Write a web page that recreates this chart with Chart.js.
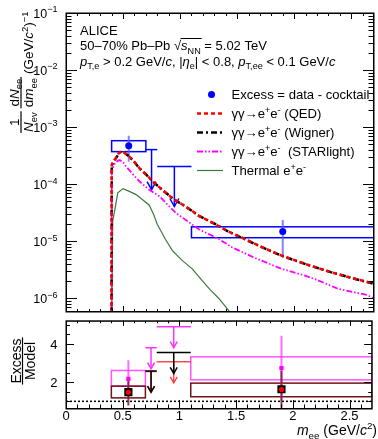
<!DOCTYPE html>
<html><head><meta charset="utf-8">
<script src="https://cdn.jsdelivr.net/npm/chart.js@4.4.1/dist/chart.umd.min.js"></script>
<style>
html,body{margin:0;padding:0;background:#fff;}
#wrap{position:relative;width:378px;height:439px;overflow:hidden;background:#fff;}
canvas{position:absolute;left:0;}
#topc{top:0;}
#botc{top:315px;}
</style></head><body>
<div id="wrap"><canvas id="topc" width="378" height="316"></canvas><canvas id="botc" width="378" height="124"></canvas></div>
<script>
// ---------------- data ----------------
const massQED  = [0.399, 0.401, 0.42, 0.44, 0.46, 0.483, 0.51, 0.556, 0.60, 0.643, 0.70, 0.76, 0.85, 0.948, 1.03, 1.107, 1.165, 1.31, 1.42, 1.54, 1.70, 1.89, 2.10, 2.32, 2.50, 2.70];
const yieldQED = [1e-7, 2.2e-4, 2.6e-4, 2.95e-4, 3.45e-4, 3.8e-4, 3.6e-4, 3.06e-4, 2.45e-4, 1.92e-4, 1.5e-4, 1.13e-4, 7.8e-5, 5.4e-5, 4.3e-5, 3.4e-5, 2.8e-5, 2.0e-5, 1.5e-5, 1.17e-5, 8.2e-6, 5.65e-6, 4.0e-6, 2.9e-6, 2.3e-6, 1.82e-6];
const massWig  = [0.399, 0.401, 0.42, 0.44, 0.46, 0.483, 0.51, 0.556, 0.60, 0.643, 0.70, 0.76, 0.85, 0.948, 1.03, 1.107, 1.165, 1.31, 1.42, 1.54, 1.70, 1.89, 2.10, 2.32, 2.50, 2.70];
const yieldWig = [1e-7, 2.15e-4, 2.55e-4, 2.9e-4, 3.4e-4, 3.75e-4, 3.6e-4, 3.05e-4, 2.45e-4, 1.9e-4, 1.5e-4, 1.12e-4, 7.8e-5, 5.4e-5, 4.3e-5, 3.4e-5, 2.8e-5, 2.0e-5, 1.5e-5, 1.16e-5, 8.2e-6, 5.6e-6, 4.0e-6, 2.9e-6, 2.3e-6, 1.8e-6];
const massSTAR  = [0.399, 0.401, 0.42, 0.45, 0.47, 0.50, 0.527, 0.58, 0.643, 0.72, 0.817, 0.96, 1.165, 1.34, 1.455, 1.65, 1.89, 2.09, 2.21, 2.38, 2.64, 2.70];
const yieldSTAR = [1e-7, 1.6e-4, 2.2e-4, 2.55e-4, 2.67e-4, 2.45e-4, 2.05e-4, 1.55e-4, 1.13e-4, 8.3e-5, 6.2e-5, 3.18e-5, 1.63e-5, 1.1e-5, 7.9e-6, 5.2e-6, 3.3e-6, 2.54e-6, 2.08e-6, 1.49e-6, 1.15e-6, 1.0e-6];
const massTherm  = [0.399, 0.41, 0.426, 0.454, 0.50, 0.55, 0.615, 0.68, 0.73, 0.77, 0.80, 0.87, 0.933, 1.02, 1.107, 1.19, 1.267, 1.34, 1.43, 1.50];
const yieldTherm = [3e-7, 2.3e-5, 3.4e-5, 7.1e-5, 8.4e-5, 7.6e-5, 6.6e-5, 5.2e-5, 4.3e-5, 2.9e-5, 2.0e-5, 1.1e-5, 6.9e-6, 4.6e-6, 3.3e-6, 2.1e-6, 1.4e-6, 1.0e-6, 6.0e-7, 4e-7];

// excess = data - cocktail
const dataMass  = [0.55, 1.90];
const dataYield = [4.74e-4, 1.49e-5];
const statHi    = [7.1e-4, 2.38e-5];
const statLo    = [2.5e-4, 5.5e-6];
const sysHi     = [5.8e-4, 1.8e-5];
const sysLo     = [3.73e-4, 1.16e-5];
const binLo     = [0.4, 1.1];
const binHi     = [0.7, 2.7];
// upper limits
const ulLo    = [0.7, 0.8];
const ulHi    = [0.8, 1.1];
const ulYield = [4.05e-4, 2.05e-4];

// ratio panel (Excess / Model)
const ratioQED   = [1.47, 1.62];
const ratioWig   = [1.48, 1.63];
const ratioSTAR  = [2.17, 2.73];
const ratioErrHi = [2.2, 2.6];
const ratioErrLo = [0.78, 0.55];
const ratioSTARErrHi = [3.14, 4.42];
const ratioSTARErrLo = [1.14, 1.0];
const boxModelHi = [1.79, 1.95];
const boxModelLo = [1.18, 1.24];
const boxSTARHi  = [2.61, 3.32];
const boxSTARLo  = [1.80, 2.12];
const ulRatioQED  = [2.56, 3.06];
const ulRatioWig  = [2.58, 3.55];
const ulRatioSTAR = [3.80, 4.89];

// ticks / labels
const xTickVals   = [0, 0.5, 1, 1.5, 2, 2.5];
const xTickLabels = ['0', '0.5', '1', '1.5', '2', '2.5'];
const yTickExp    = [-6, -5, -4, -3, -2, -1];
const rTickVals   = [2, 4];
const rTickLabels = ['2', '4'];
const legendLabels = ['Excess = data - cocktail', 'γγ→e^{+}e^{-} (QED)', 'γγ→e^{+}e^{-} (Wigner)', 'γγ→e^{+}e^{-}  (STARlight)', 'Thermal e^{+}e^{-}'];
const headerLines = ['ALICE', '50–70% Pb–Pb √~{s}_{NN} = 5.02 TeV', '~{p}_{T,e} > 0.2 GeV/~{c}, |~{η}_{e}| < 0.8, ~{p}_{T,ee} < 0.1 GeV/~{c}'];

// ---------------- helpers ----------------
const FF = '"Liberation Sans", Arial, Helvetica, sans-serif';
function fnt(sz, it){ return (it ? 'italic ' : '') + sz + 'px ' + FF; }
function parse(s, sz){
  const parts = []; let i = 0, buf = '';
  const flush = () => { if (buf) { parts.push([buf, sz, false, 0]); buf = ''; } };
  while (i < s.length) {
    const c = s[i];
    if ((c === '^' || c === '_' || c === '~') && s[i+1] === '{') {
      flush();
      const j = s.indexOf('}', i + 2); const t = s.slice(i + 2, j);
      if (c === '^') parts.push([t, sz * 0.7, false, -sz * 0.4]);
      else if (c === '_') parts.push([t, sz * 0.7, false, sz * 0.28]);
      else parts.push([t, sz, true, 0]);
      i = j + 1;
    } else { buf += c; i++; }
  }
  flush(); return parts;
}
function measure(ctx, parts){ let w = 0; for (const p of parts){ ctx.font = fnt(p[1], p[2]); w += ctx.measureText(p[0]).width; } return w; }
function drawRuns(ctx, parts, x, y, align){
  const w = measure(ctx, parts);
  let cx = align === 'right' ? x - w : align === 'center' ? x - w / 2 : x;
  ctx.textAlign = 'left'; ctx.textBaseline = 'alphabetic';
  const pos = [];
  for (const p of parts){ ctx.font = fnt(p[1], p[2]); ctx.fillText(p[0], cx, y + p[3]); const pw = ctx.measureText(p[0]).width; pos.push([cx, pw]); cx += pw; }
  return pos;
}
function drawRot(ctx, parts, bx, sy, align){
  ctx.save(); ctx.translate(bx, sy); ctx.rotate(-Math.PI / 2); drawRuns(ctx, parts, 0, 0, align); ctx.restore();
}
function fracLen(ctx, num, den){ return Math.max(measure(ctx, num), measure(ctx, den)) + 2; }
function rotFrac(ctx, num, den, cy, numB, denB, barX){
  const L = fracLen(ctx, num, den);
  drawRot(ctx, num, numB, cy, 'center');
  drawRot(ctx, den, denB, cy, 'center');
  ctx.save(); ctx.strokeStyle = '#000'; ctx.lineWidth = 1.2;
  ctx.beginPath(); ctx.moveTo(barX, cy + L / 2); ctx.lineTo(barX, cy - L / 2); ctx.stroke(); ctx.restore();
  return L;
}
function line(ctx, x0, y0, x1, y1){ ctx.beginPath(); ctx.moveTo(x0, y0); ctx.lineTo(x1, y1); ctx.stroke(); }
function arrowDown(ctx, cx, y0, len, hw, hh){
  line(ctx, cx, y0, cx, y0 + len);
  ctx.beginPath(); ctx.moveTo(cx - hw, y0 + len - hh); ctx.lineTo(cx, y0 + len); ctx.lineTo(cx + hw, y0 + len - hh); ctx.stroke();
}
function frameTicks(chart, xt, yt){
  const {ctx, chartArea: a, scales: {x, y}} = chart;
  ctx.save(); ctx.strokeStyle = '#000'; ctx.lineWidth = 1;
  for (let i = 0; i <= 27; i++){
    const v = i / 10; const p = Math.round(x.getPixelForValue(v)) + 0.5; const maj = i % 5 === 0;
    const lb = maj ? xt.bMaj : xt.bMin, lt = maj ? xt.tMaj : xt.tMin;
    if (p > a.left + 1 && p < a.right - 1){ line(ctx, p, a.bottom, p, a.bottom - lb); line(ctx, p, a.top, p, a.top + lt); }
  }
  for (const t of yt.list){
    const p = Math.round(y.getPixelForValue(t.v)) + 0.5;
    if (p < a.top + 1 || p > a.bottom - 1) continue;
    const l = t.maj ? yt.maj : yt.min;
    line(ctx, a.left, p, a.left + l, p); line(ctx, a.right, p, a.right - l, p);
  }
  ctx.lineWidth = 1.5;
  ctx.strokeRect(a.left + 0.25, a.top + 0.25, a.right - a.left - 0.5, a.bottom - a.top - 0.5);
  ctx.restore();
}

// ---------------- top panel ----------------
const pts = (xs, ys) => xs.map((m, i) => ({x: m, y: ys[i]}));
const topPlugin = {
  id: 'topDecor',
  beforeDatasetsDraw(chart){
    const {ctx, chartArea: a, scales: {x, y}} = chart;
    ctx.save(); ctx.beginPath(); ctx.rect(a.left, a.top, a.right - a.left, a.bottom - a.top); ctx.clip();
    ctx.strokeStyle = '#0000ff'; ctx.lineWidth = 1.5;
    for (let i = 0; i < dataMass.length; i++){
      const x0 = x.getPixelForValue(binLo[i]), x1 = x.getPixelForValue(binHi[i]);
      const y0 = y.getPixelForValue(sysHi[i]), y1 = y.getPixelForValue(sysLo[i]);
      ctx.strokeRect(x0, y0, x1 - x0, y1 - y0);
    }
    ctx.strokeStyle = 'rgba(90,90,255,0.75)'; ctx.lineWidth = 2;
    for (let i = 0; i < dataMass.length; i++){
      const px = x.getPixelForValue(dataMass[i]);
      line(ctx, px, y.getPixelForValue(statHi[i]), px, y.getPixelForValue(statLo[i]));
    }
    ctx.strokeStyle = '#0000ff'; ctx.lineWidth = 1.5;
    for (let i = 0; i < ulYield.length; i++){
      const x0 = x.getPixelForValue(ulLo[i]), x1 = x.getPixelForValue(ulHi[i]);
      const py = y.getPixelForValue(ulYield[i]);
      line(ctx, x0, py, x1, py);
      arrowDown(ctx, (x0 + x1) / 2, py, 40, 4.5, 8);
    }
    ctx.restore();
  },
  afterDraw(chart){
    const {ctx, scales: {y}} = chart;
    const ylist = [];
    for (let d = -7; d <= -1; d++) for (let m = 1; m <= 9; m++) ylist.push({v: m * Math.pow(10, d), maj: m === 1});
    frameTicks(chart, {bMaj: 6, bMin: 3, tMaj: 6, tMin: 3}, {list: ylist, maj: 11, min: 5.5});
    ctx.save(); ctx.fillStyle = '#000';
    for (const e of yTickExp){
      const py = y.getPixelForValue(Math.pow(10, e));
      const sup = [['−' + Math.abs(e), 9, false, -5.5]];
      const sw = measure(ctx, sup);
      drawRuns(ctx, sup, 57.5, py + 4.8, 'right');
      drawRuns(ctx, [['10', 12.5, false, 0]], 57.5 - sw, py + 4.8, 'right');
    }
    // y title (rotated)
    const T = 13.5;
    let yb = 133;
    const n1 = parse('1', T), d1 = parse('~{N}_{ev}', T);
    const w1 = fracLen(ctx, n1, d1);
    rotFrac(ctx, n1, d1, yb - w1 / 2, 18.5, 33, 21);
    yb -= w1 + 3;
    const n2 = parse('d~{N}_{ee}', T), d2 = parse('d~{m}_{ee}', T);
    const w2 = fracLen(ctx, n2, d2);
    rotFrac(ctx, n2, d2, yb - w2 / 2, 18.5, 33, 21);
    yb -= w2 + 3;
    drawRot(ctx, parse('(GeV/~{c}^{2})^{−1}', T), 33, yb, 'left');
    // header text
    drawRuns(ctx, parse(headerLines[0], 13), 80, 34.5, 'left');
    const pos = drawRuns(ctx, parse(headerLines[1], 13), 80, 50, 'left');
    ctx.strokeStyle = '#000'; ctx.lineWidth = 1;
    line(ctx, pos[1][0] - 0.5, 50 - 11.5, pos[2][0] + pos[2][1] + 1, 50 - 11.5);
    drawRuns(ctx, parse(headerLines[2], 13), 80, 65.5, 'left');
    // legend
    const ds = chart.data.datasets;
    for (let r = 0; r < 5; r++){
      const d = ds[r]; const ry = 94.5 + 19 * r;
      ctx.save();
      if (r === 0){
        ctx.fillStyle = d.pointBackgroundColor; ctx.beginPath(); ctx.arc(211.5, ry, d.pointRadius, 0, Math.PI * 2); ctx.fill();
      } else {
        ctx.strokeStyle = d.borderColor; ctx.lineWidth = d.borderWidth; ctx.setLineDash(d.borderDash || []);
        line(ctx, 197, ry, 223, ry);
      }
      ctx.restore();
      ctx.fillStyle = '#000';
      drawRuns(ctx, parse(legendLabels[r], 13.1), 231.5, ry + 4.7, 'left');
    }
    ctx.restore();
  }
};

new Chart(document.getElementById('topc'), {
  type: 'line',
  data: { datasets: [
    { label: 'Excess = data - cocktail', data: pts(dataMass, dataYield), showLine: false, pointRadius: 3.5, pointBackgroundColor: '#0000ff', pointBorderColor: '#0000ff', pointBorderWidth: 0, clip: 0 },
    { label: 'QED', data: pts(massQED, yieldQED), borderColor: '#ff0000', borderWidth: 2.5, borderDash: [4, 3], pointRadius: 0, tension: 0, clip: 0 },
    { label: 'Wigner', data: pts(massWig, yieldWig), borderColor: '#000000', borderWidth: 2.5, borderDash: [6, 3, 2, 3], pointRadius: 0, tension: 0, clip: 0 },
    { label: 'STARlight', data: pts(massSTAR, yieldSTAR), borderColor: '#ff00ff', borderWidth: 1.8, borderDash: [6, 2, 1.5, 2, 1.5, 2], pointRadius: 0, tension: 0, clip: 0 },
    { label: 'Thermal', data: pts(massTherm, yieldTherm), borderColor: '#3a7a3a', borderWidth: 1.2, pointRadius: 0, tension: 0, clip: 0 }
  ]},
  options: {
    responsive: false, animation: false, devicePixelRatio: 1,
    layout: { padding: { left: 66, right: 1, top: 13, bottom: 1 } },
    scales: {
      x: { type: 'linear', min: 0, max: 2.7, display: false },
      y: { type: 'logarithmic', min: 5.8e-7, max: 0.1, display: false }
    },
    plugins: { legend: { display: false }, tooltip: { enabled: false } }
  },
  plugins: [topPlugin]
});

// ---------------- ratio panel ----------------
const botPlugin = {
  id: 'botDecor',
  beforeDatasetsDraw(chart){
    const {ctx, chartArea: a, scales: {x, y}} = chart;
    ctx.save(); ctx.beginPath(); ctx.rect(a.left, a.top, a.right - a.left, a.bottom - a.top); ctx.clip();
    ctx.strokeStyle = '#000'; ctx.lineWidth = 1.5; ctx.setLineDash([2, 2]);
    const p1 = y.getPixelForValue(1); line(ctx, a.left, p1, a.right, p1); ctx.setLineDash([]);
    ctx.lineWidth = 1.5;
    for (let i = 0; i < dataMass.length; i++){
      const x0 = x.getPixelForValue(binLo[i]), x1 = x.getPixelForValue(binHi[i]);
      ctx.strokeStyle = '#ff55ff';
      let y0 = y.getPixelForValue(boxSTARHi[i]), y1 = y.getPixelForValue(boxSTARLo[i]);
      ctx.strokeRect(x0, y0, x1 - x0, y1 - y0);
      ctx.strokeStyle = '#6e1414';
      y0 = y.getPixelForValue(boxModelHi[i]); y1 = y.getPixelForValue(boxModelLo[i]);
      ctx.strokeRect(x0, y0, x1 - x0, y1 - y0);
    }
    ctx.lineWidth = 2;
    for (let i = 0; i < dataMass.length; i++){
      const px = x.getPixelForValue(dataMass[i]);
      ctx.strokeStyle = 'rgba(255,60,255,0.75)';
      line(ctx, px, y.getPixelForValue(ratioSTARErrHi[i]), px, y.getPixelForValue(ratioSTARErrLo[i]));
      ctx.strokeStyle = 'rgba(110,20,30,0.8)';
      line(ctx, px, y.getPixelForValue(ratioErrHi[i]), px, y.getPixelForValue(ratioErrLo[i]));
    }
    ctx.lineWidth = 1.5;
    const sets = [[ulRatioQED, 'rgba(255,40,40,0.85)'], [ulRatioWig, '#000000'], [ulRatioSTAR, '#ff33ff']];
    for (const [vals, col] of sets){
      ctx.strokeStyle = col;
      for (let i = 0; i < vals.length; i++){
        const x0 = x.getPixelForValue(ulLo[i]), x1 = x.getPixelForValue(ulHi[i]);
        const py = y.getPixelForValue(vals[i]);
        line(ctx, x0, py, x1, py);
        arrowDown(ctx, (x0 + x1) / 2, py, 21, 3.5, 6);
      }
    }
    ctx.restore();
  },
  afterDraw(chart){
    const {ctx, chartArea: a, scales: {x, y}} = chart;
    const ylist = [];
    for (let i = 1; i <= 11; i++) ylist.push({v: i * 0.5, maj: i % 4 === 0});
    frameTicks(chart, {bMaj: 9, bMin: 4.5, tMaj: 5, tMin: 2.5}, {list: ylist, maj: 8, min: 4});
    ctx.save(); ctx.fillStyle = '#000';
    for (let i = 0; i < rTickVals.length; i++){
      drawRuns(ctx, [[rTickLabels[i], 13, false, 0]], 57.5, y.getPixelForValue(rTickVals[i]) + 4.7, 'right');
    }
    for (let i = 0; i < xTickVals.length; i++){
      drawRuns(ctx, [[xTickLabels[i], 13, false, 0]], x.getPixelForValue(xTickVals[i]), a.bottom + 11, 'center');
    }
    drawRuns(ctx, parse('~{m}_{ee} (GeV/~{c}^{2})', 14), 377, a.bottom + 26, 'right');
    rotFrac(ctx, parse('Excess', 14), parse('Model', 14), 46, 21, 35, 22.5);
    ctx.restore();
  }
};

new Chart(document.getElementById('botc'), {
  type: 'line',
  data: { datasets: [
    { label: 'QED ratio', data: pts(dataMass, ratioQED), showLine: false, pointStyle: 'circle', pointRadius: 2.6, pointBackgroundColor: '#ff0000', pointBorderWidth: 0, clip: 0 },
    { label: 'Wigner ratio', data: pts(dataMass, ratioWig), showLine: false, pointStyle: 'rect', pointRadius: 5.8, pointBackgroundColor: '#000000', pointBorderWidth: 0, clip: 0 },
    { label: 'STARlight ratio', data: pts(dataMass, ratioSTAR), showLine: false, pointStyle: 'rect', pointRadius: 3, pointBackgroundColor: '#ff00ff', pointBorderWidth: 0, clip: 0 }
  ]},
  options: {
    responsive: false, animation: false, devicePixelRatio: 1,
    layout: { padding: { left: 66, right: 1, top: 1, bottom: 30 } },
    scales: {
      x: { type: 'linear', min: 0, max: 2.7, display: false },
      y: { type: 'linear', min: 0.6, max: 5.2, display: false }
    },
    plugins: { legend: { display: false }, tooltip: { enabled: false } }
  },
  plugins: [botPlugin]
});
</script>
</body></html>
